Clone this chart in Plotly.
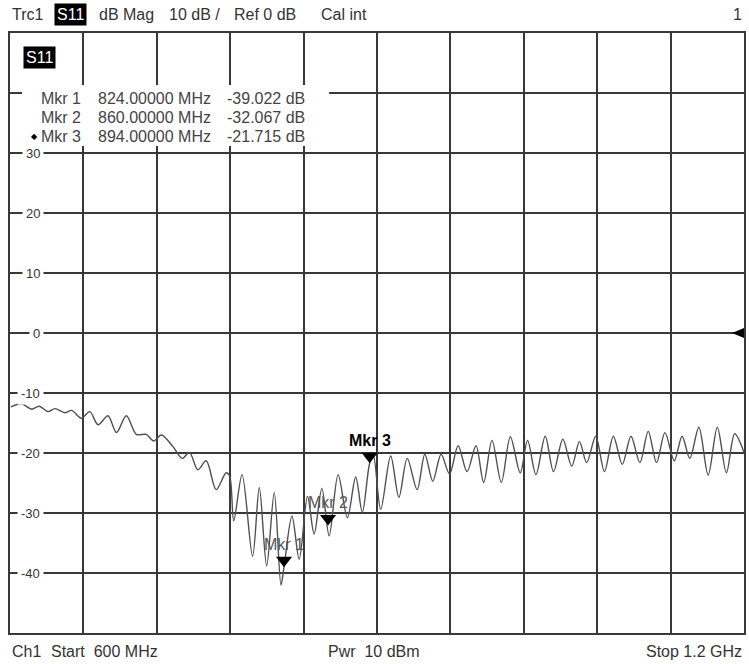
import plotly.graph_objects as go

# ---------------- data ----------------
freq_mhz = [600.8, 609.5, 617.7, 623.9, 631.2, 636.7, 644.8, 650.3, 658.4, 665.2,
            672.0, 680.1, 687.0, 695.1, 703.3, 711.4, 717.4, 723.7, 733.1, 740.8,
            746.7, 753.5, 760.4, 768.5, 776.7, 779.5, 782.9, 789.7, 798.3, 803.8,
            809.8, 816.0, 821.5, 824.0, 830.5, 836.4, 843.2, 848.6, 854.9, 860.9,
            868.2, 875.8, 882.6, 888.0, 894.0, 897.0, 903.0, 911.2, 917.9, 924.7,
            932.8, 939.1, 945.6, 952.4, 959.3, 966.3, 973.6, 980.9, 987.2, 994.0,
            1001.6, 1009.0, 1017.1, 1023.1, 1029.9, 1037.5, 1044.3, 1051.9, 1059.2, 1065.5,
            1071.4, 1078.8, 1085.9, 1093.2, 1100.5, 1107.6, 1114.9, 1121.7, 1128.5, 1135.4,
            1143.0, 1149.4, 1155.7, 1163.1, 1170.7, 1178.2, 1185.6, 1192.4, 1200.0]
s11_db = [-12.3, -11.8, -12.7, -12.2, -13.1, -12.6, -13.3, -12.9, -14.2, -13.1,
          -15.3, -13.8, -16.6, -13.8, -16.9, -16.9, -18.0, -17.0, -18.9, -20.9,
          -19.9, -22.8, -21.3, -26.1, -23.3, -23.8, -31.3, -23.6, -37.2, -25.8,
          -38.8, -26.6, -42.0, -39.0, -30.5, -37.7, -27.2, -33.5, -25.9, -33.8,
          -23.6, -30.8, -24.0, -29.9, -21.7, -20.4, -29.4, -20.5, -27.4, -20.9,
          -26.1, -20.2, -24.7, -20.2, -23.5, -18.8, -23.1, -18.8, -24.9, -17.9,
          -24.9, -17.3, -23.3, -17.9, -23.6, -17.2, -23.1, -17.7, -22.2, -18.1,
          -21.6, -17.2, -23.1, -17.2, -21.9, -17.2, -21.6, -16.4, -21.6, -16.6,
          -21.3, -17.2, -20.9, -15.7, -23.7, -15.7, -23.3, -16.8, -19.9]

marker_names = ["Mkr 1", "Mkr 2", "Mkr 3"]
marker_freq = [824.0, 860.0, 894.0]
marker_db = [-39.022, -32.067, -21.715]
marker_freq_text = ["824.00000 MHz", "860.00000 MHz", "894.00000 MHz"]
marker_db_text = ["-39.022 dB", "-32.067 dB", "-21.715 dB"]

y_tick_vals = [30, 20, 10, 0, -10, -20, -30, -40]
y_tick_text = ["30", "20", "10", "0", "-10", "-20", "-30", "-40"]

start_mhz, stop_mhz = 600, 1200
ref_db = 0
# --------------------------------------

W, H = 749, 664
L, R, T, B = 10, 3, 33, 31
PW, PH = W - L - R, H - T - B
PX_PER_DB = PH / 100.0

def px(xp):
    return (xp - L) / PW

def py(yp):
    return (H - B - yp) / PH

FONT = "Liberation Sans, Arial, sans-serif"
GRID = "#383838"

fig = go.Figure()
fig.add_trace(go.Scatter(x=freq_mhz, y=s11_db, mode="lines",
                         line=dict(color="#505050", width=1.4, shape="spline", smoothing=0.9),
                         hoverinfo="skip", showlegend=False))

MS = 14
fig.add_trace(go.Scatter(x=marker_freq, y=[v + (MS / 2) / PX_PER_DB for v in marker_db],
                         mode="markers",
                         marker=dict(symbol="triangle-down", size=MS, color="black"),
                         showlegend=False, hoverinfo="skip"))

ann = []
# marker labels
for i, (n, f, v) in enumerate(zip(marker_names, marker_freq, marker_db)):
    active = (i == len(marker_names) - 1)
    ann.append(dict(x=f, y=v, xref="x", yref="y", text=("<b>%s</b>" % n) if active else n,
                    showarrow=False, yshift=23, xanchor="center", yanchor="middle",
                    font=dict(family=FONT, size=16, color="black" if active else "#555555")))

# y tick labels
for v, t in zip(y_tick_vals, y_tick_text):
    ann.append(dict(x=px(44), y=v, xref="paper", yref="y", text=t, showarrow=False,
                    xanchor="right", yanchor="middle", bgcolor="white", borderpad=3,
                    font=dict(family=FONT, size=13, color="#333333")))

# marker table
row_y = [99, 117, 136]
for i in range(3):
    ann.append(dict(x=px(39), y=py(row_y[i]), xref="paper", yref="paper", text=marker_names[i],
                    showarrow=False, xanchor="left", yanchor="middle",
                    font=dict(family=FONT, size=16, color="#444444")))
    ann.append(dict(x=px(96), y=py(row_y[i]), xref="paper", yref="paper", text=marker_freq_text[i],
                    showarrow=False, xanchor="left", yanchor="middle",
                    font=dict(family=FONT, size=16, color="#444444")))
    ann.append(dict(x=px(226), y=py(row_y[i]), xref="paper", yref="paper", text=marker_db_text[i],
                    showarrow=False, xanchor="left", yanchor="middle",
                    font=dict(family=FONT, size=16, color="#444444")))
ann.append(dict(x=px(29), y=py(136), xref="paper", yref="paper", text="◆",
                showarrow=False, xanchor="left", yanchor="middle",
                font=dict(family="DejaVu Sans", size=8, color="black")))

# S11 badge inside plot
ann.append(dict(x=px(23), y=py(58), xref="paper", yref="paper", text="S11", showarrow=False,
                xanchor="left", yanchor="middle", bgcolor="black", borderpad=2,
                font=dict(family=FONT, size=16, color="white")))

# header
hy = py(15)
hdr = [(10, "Trc1"), (97, "dB Mag"), (167, "10 dB /"), (233, "Ref 0 dB"), (320, "Cal int")]
for xp, t in hdr:
    ann.append(dict(x=px(xp), y=hy, xref="paper", yref="paper", text=t, showarrow=False,
                    xanchor="left", yanchor="middle", font=dict(family=FONT, size=16, color="#333333")))
ann.append(dict(x=px(54), y=hy, xref="paper", yref="paper", text="S11", showarrow=False,
                xanchor="left", yanchor="middle", bgcolor="black", borderpad=2,
                font=dict(family=FONT, size=16, color="white")))
ann.append(dict(x=px(746), y=hy, xref="paper", yref="paper", text="1", showarrow=False,
                xanchor="right", yanchor="middle", font=dict(family=FONT, size=16, color="#333333")))

# footer
fy = py(651)
ann.append(dict(x=px(10), y=fy, xref="paper", yref="paper", text="Ch1", showarrow=False,
                xanchor="left", yanchor="middle", font=dict(family=FONT, size=16, color="#333333")))
ann.append(dict(x=px(49), y=fy, xref="paper", yref="paper", text="Start  %d MHz" % start_mhz,
                showarrow=False, xanchor="left", yanchor="middle",
                font=dict(family=FONT, size=16, color="#333333")))
ann.append(dict(x=px(327), y=fy, xref="paper", yref="paper", text="Pwr  10 dBm", showarrow=False,
                xanchor="left", yanchor="middle", font=dict(family=FONT, size=16, color="#333333")))
ann.append(dict(x=px(746), y=fy, xref="paper", yref="paper", text="Stop 1.2 GHz",
                showarrow=False, xanchor="right", yanchor="middle",
                font=dict(family=FONT, size=16, color="#333333")))

shapes = [
    dict(type="rect", xref="paper", yref="paper", x0=px(22), x1=px(330), y0=py(146), y1=py(85),
         fillcolor="white", line=dict(width=0), layer="above"),
    dict(type="path", xref="paper", yref="y",
         path="M %f,%f L %f,%f L %f,%f Z" % (1.0, ref_db + 5 / PX_PER_DB, 1.0, ref_db - 5 / PX_PER_DB,
                                             1.0 - 12 / PW, ref_db),
         fillcolor="black", line=dict(width=0), layer="above"),
]

fig.update_layout(
    width=W, height=H, margin=dict(l=L, r=R, t=T, b=B),
    paper_bgcolor="white", plot_bgcolor="white",
    annotations=ann, shapes=shapes, showlegend=False,
    xaxis=dict(range=[start_mhz, stop_mhz], dtick=60, tick0=600, showgrid=True, gridcolor=GRID,
               gridwidth=1.6, showticklabels=False, zeroline=False, showline=True,
               linecolor=GRID, linewidth=1.6, mirror=True, ticks=""),
    yaxis=dict(range=[-50, 50], dtick=10, tick0=0, showgrid=True, gridcolor=GRID, gridwidth=1.6,
               showticklabels=False, zeroline=False, showline=True, linecolor=GRID,
               linewidth=1.6, mirror=True, ticks=""),
)

fig.write_html("out.html", config={"displayModeBar": False},
               post_script="document.body.style.margin='0px';document.body.style.overflow='hidden';")
